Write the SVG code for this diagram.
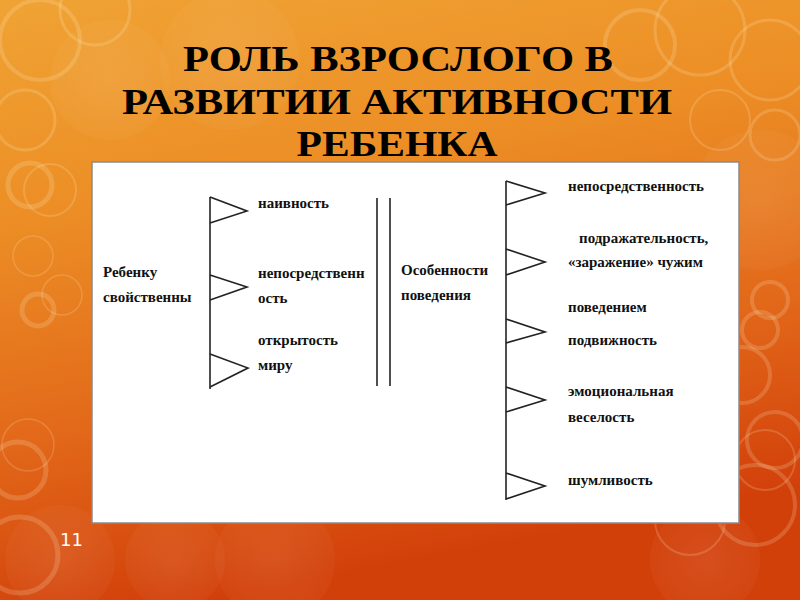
<svg xmlns="http://www.w3.org/2000/svg" width="800" height="600" viewBox="0 0 800 600">
<defs>
<linearGradient id="bg" x1="0" y1="0" x2="0.25" y2="1">
<stop offset="0" stop-color="#F0A334"/>
<stop offset="0.35" stop-color="#EC8E25"/>
<stop offset="0.7" stop-color="#E2681A"/>
<stop offset="1" stop-color="#D2400A"/>
</linearGradient>
<radialGradient id="glow" cx="0.5" cy="0.5" r="0.5">
<stop offset="0" stop-color="#FFFFFF" stop-opacity="0.08"/>
<stop offset="1" stop-color="#FFFFFF" stop-opacity="0.03"/>
</radialGradient>
<style>
.ring{fill:none;stroke:#FFF3D0;stroke-opacity:0.18}
.blob{fill:url(#glow)}
.title{font-family:"Liberation Serif","Times New Roman",serif;font-weight:bold;font-size:36px;fill:#000}
.lbl{font-family:"Liberation Serif","Times New Roman",serif;font-weight:bold;font-size:15px;fill:#111}
.ln{fill:none;stroke:#222;stroke-width:1.6}
.num{font-family:"DejaVu Sans","Open Sans",sans-serif;font-size:18px;fill:#FFFFFF}
</style>
</defs>
<rect width="800" height="600" fill="url(#bg)"/>
<g id="decor">
<circle class="blob" cx="230" cy="60" r="70"/>
<circle class="blob" cx="110" cy="80" r="60"/>
<circle class="blob" cx="60" cy="560" r="55"/>
<circle class="blob" cx="175" cy="560" r="50"/>
<circle class="blob" cx="275" cy="560" r="60"/>
<circle class="blob" cx="760" cy="200" r="70"/>
<circle class="blob" cx="705" cy="560" r="55"/>
<circle class="ring" cx="40" cy="40" r="40" stroke-width="4"/>
<circle class="ring" cx="95" cy="10" r="35" stroke-width="3"/>
<circle class="ring" cx="25" cy="120" r="30" stroke-width="3"/>
<circle class="ring" cx="30" cy="185" r="22" stroke-width="5"/>
<circle class="ring" cx="50" cy="190" r="26" stroke-width="2"/>
<circle class="ring" cx="33" cy="256" r="20" stroke-width="1.5"/>
<circle class="ring" cx="62" cy="295" r="20" stroke-width="1.5"/>
<circle class="ring" cx="38" cy="310" r="16" stroke-width="5"/>
<circle class="ring" cx="28" cy="445" r="26" stroke-width="1.5"/>
<circle class="ring" cx="18" cy="470" r="28" stroke-width="5"/>
<circle class="ring" cx="20" cy="555" r="38" stroke-width="5"/>
<circle class="ring" cx="640" cy="45" r="35" stroke-width="4"/>
<circle class="ring" cx="700" cy="30" r="45" stroke-width="3"/>
<circle class="ring" cx="770" cy="60" r="40" stroke-width="3"/>
<circle class="ring" cx="720" cy="120" r="30" stroke-width="2"/>
<circle class="ring" cx="775" cy="135" r="25" stroke-width="3"/>
<circle class="ring" cx="770" cy="300" r="18" stroke-width="4"/>
<circle class="ring" cx="760" cy="330" r="18" stroke-width="4"/>
<circle class="ring" cx="742" cy="375" r="28" stroke-width="4"/>
<circle class="ring" cx="775" cy="440" r="28" stroke-width="4"/>
<circle class="ring" cx="765" cy="460" r="30" stroke-width="2"/>
<circle class="ring" cx="755" cy="505" r="40" stroke-width="4"/>
<circle class="ring" cx="690" cy="520" r="35" stroke-width="2"/>
</g>
<g id="title">
<text class="title" x="398" y="71" text-anchor="middle" textLength="430" lengthAdjust="spacingAndGlyphs">РОЛЬ ВЗРОСЛОГО В</text>
<text class="title" x="397" y="114" text-anchor="middle" textLength="550" lengthAdjust="spacingAndGlyphs">РАЗВИТИИ АКТИВНОСТИ</text>
<text class="title" x="397" y="156" text-anchor="middle" textLength="201" lengthAdjust="spacingAndGlyphs">РЕБЕНКА</text>
</g>
<g id="panel">
<rect x="92" y="162" width="647" height="361" fill="#FFFFFF" stroke="#8A8A8A" stroke-width="1.5"/>
</g>
<g id="connectors">
<line class="ln" x1="210" y1="197" x2="210" y2="389"/>
<polyline class="ln" points="210,197 247,211 210,223"/>
<polyline class="ln" points="210,275 247,287 210,300"/>
<polyline class="ln" points="210,354 248,368 210,387"/>
<line class="ln" x1="377" y1="198" x2="377" y2="386"/>
<line class="ln" x1="390" y1="198" x2="390" y2="386"/>
<line class="ln" x1="506" y1="181" x2="506" y2="500"/>
<polyline class="ln" points="506,181 545,193 506,205"/>
<polyline class="ln" points="506,249 545,262 506,275"/>
<polyline class="ln" points="506,319 545,332 506,343"/>
<polyline class="ln" points="506,387 545,400 506,412"/>
<polyline class="ln" points="506,473 545,486 506,499"/>
</g>
<g id="node-left">
<text class="lbl" x="103" y="277">Ребенку</text>
<text class="lbl" x="103" y="302">свойственны</text>
</g>
<g id="node-l1"><text class="lbl" x="258" y="208">наивность</text></g>
<g id="node-l2">
<text class="lbl" x="258" y="278">непосредственн</text>
<text class="lbl" x="258" y="303">ость</text>
</g>
<g id="node-l3">
<text class="lbl" x="258" y="345">открытость</text>
<text class="lbl" x="258" y="370">миру</text>
</g>
<g id="node-mid">
<text class="lbl" x="401" y="275">Особенности</text>
<text class="lbl" x="401" y="300">поведения</text>
</g>
<g id="node-r1"><text class="lbl" x="568" y="191">непосредственность</text></g>
<g id="node-r2">
<text class="lbl" x="579" y="243">подражательность,</text>
<text class="lbl" x="568" y="267">«заражение» чужим</text>
<text class="lbl" x="568" y="312">поведением</text>
</g>
<g id="node-r3"><text class="lbl" x="568" y="345">подвижность</text></g>
<g id="node-r4">
<text class="lbl" x="568" y="396">эмоциональная</text>
<text class="lbl" x="568" y="422">веселость</text>
</g>
<g id="node-r5"><text class="lbl" x="568" y="485">шумливость</text></g>
<text class="num" x="60" y="546">11</text>
</svg>
